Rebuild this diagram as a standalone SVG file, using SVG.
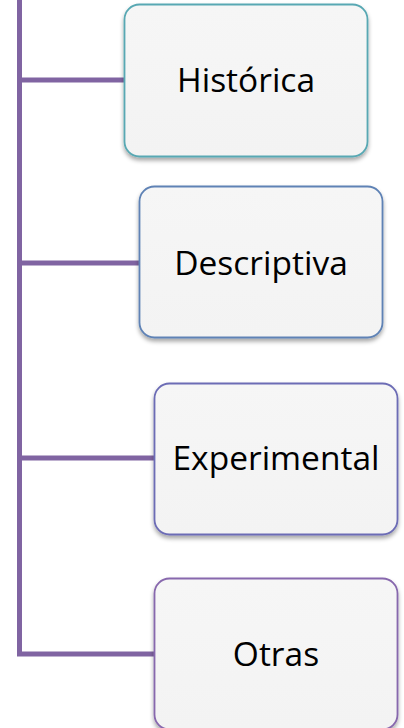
<svg xmlns="http://www.w3.org/2000/svg" width="404" height="728" viewBox="0 0 404 728">
  <defs>
    <linearGradient id="fillGrad" x1="0" y1="0" x2="0" y2="1">
      <stop offset="0" stop-color="#F6F6F6"/>
      <stop offset="1" stop-color="#F3F3F3"/>
    </linearGradient>
    <filter id="shadow" x="-10%" y="-10%" width="120%" height="125%">
      <feDropShadow dx="0" dy="3" stdDeviation="2.2" flood-color="#000" flood-opacity="0.35"/>
    </filter>
    <style>
      .conn { fill: none; stroke: #8064A2; stroke-width: 5; stroke-linejoin: miter; }
      .box { fill: url(#fillGrad); stroke-width: 1.8; filter: url(#shadow); }
      .lbl { font-family: "Open Sans", "Noto Sans", sans-serif; font-size: 33.5px; fill: #000; text-anchor: middle; }
    </style>
  </defs>
  <rect width="404" height="728" fill="#FFFFFF"/>
  <g id="connectors">
    <path class="conn" d="M19.5,-5 V654 H160"/>
    <path class="conn" d="M19.5,80 H130"/>
    <path class="conn" d="M19.5,263 H145"/>
    <path class="conn" d="M19.5,458 H160"/>
  </g>
  <g id="node-historica">
    <rect class="box" x="124.5" y="4.5" width="243" height="152" rx="15" stroke="#58A8B3"/>
    <text class="lbl" x="246" y="92">Histórica</text>
  </g>
  <g id="node-descriptiva">
    <rect class="box" x="139.5" y="186.5" width="243" height="151" rx="15" stroke="#5E82B5"/>
    <text class="lbl" x="261" y="275">Descriptiva</text>
  </g>
  <g id="node-experimental">
    <rect class="box" x="154.5" y="383.5" width="243" height="151" rx="15" stroke="#6C6CB5"/>
    <text class="lbl" x="276" y="470">Experimental</text>
  </g>
  <g id="node-otras">
    <rect class="box" x="154.5" y="578.5" width="243" height="151" rx="15" stroke="#8767AD"/>
    <text class="lbl" x="276" y="666">Otras</text>
  </g>
</svg>
